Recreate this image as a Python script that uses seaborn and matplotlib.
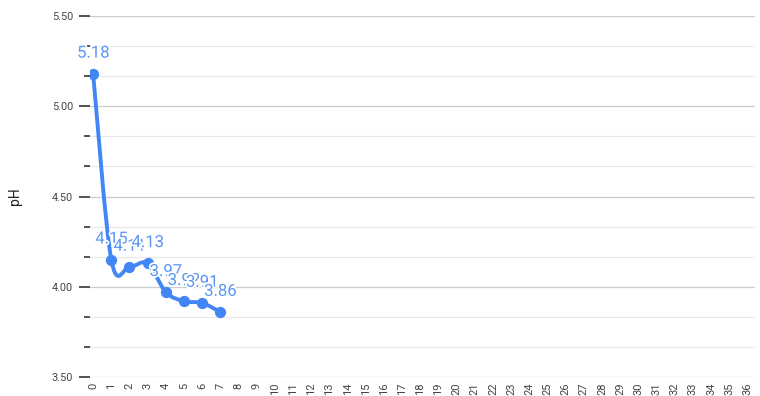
import numpy as np
import pandas as pd
import matplotlib
matplotlib.use("Agg")
import matplotlib.pyplot as plt
from matplotlib.path import Path
from matplotlib.patches import PathPatch
from matplotlib.ticker import MultipleLocator, FixedLocator, FormatStrFormatter
import matplotlib.patheffects as pe
import seaborn as sns

# Measured pH per day
days = [0, 1, 2, 3, 4, 5, 6, 7]
ph_values = [5.18, 4.15, 4.11, 4.13, 3.97, 3.92, 3.91, 3.86]
x_ticks = list(range(0, 37))
y_ticks = [3.50, 4.00, 4.50, 5.00, 5.50]

LINE = "#4285f4"
TEXT = "#5a96f2"

sns.set_theme(style="white")
plt.rcParams["font.family"] = ["Roboto", "DejaVu Sans"]

df = pd.DataFrame({"day": days, "pH": ph_values})

fig = plt.figure(figsize=(7.6, 3.96), dpi=100)
ax = fig.add_axes([0.118, 0.048, 0.875, 0.9115])

# Smooth curve through the points (Catmull-Rom as cubic Bezier segments)
xs = np.asarray(days, dtype=float)
ys = np.asarray(ph_values, dtype=float)
n = len(xs)
verts = [(xs[0], ys[0])]
codes = [Path.MOVETO]
for i in range(n - 1):
    p0 = (xs[max(i - 1, 0)], ys[max(i - 1, 0)])
    p1 = (xs[i], ys[i])
    p2 = (xs[i + 1], ys[i + 1])
    p3 = (xs[min(i + 2, n - 1)], ys[min(i + 2, n - 1)])
    c1 = (p1[0] + (p2[0] - p0[0]) / 6, p1[1] + (p2[1] - p0[1]) / 6)
    c2 = (p2[0] - (p3[0] - p1[0]) / 6, p2[1] - (p3[1] - p1[1]) / 6)
    verts += [c1, c2, p2]
    codes += [Path.CURVE4] * 3
curve = PathPatch(Path(verts, codes), facecolor="none", edgecolor=LINE,
                  linewidth=2.8, capstyle="round", joinstyle="round", zorder=3)
ax.add_patch(curve)

sns.scatterplot(data=df, x="day", y="pH", ax=ax, color=LINE, s=66,
                edgecolor=LINE, linewidth=0, zorder=4, legend=False)

# Value labels above each point
for d, v in zip(days, ph_values):
    ax.annotate(f"{v:.2f}", (d, v), xytext=(0, 9.5), textcoords="offset points",
                ha="center", va="bottom", fontsize=12, color=TEXT, zorder=5,
                path_effects=[pe.withStroke(linewidth=2.5, foreground="white")])

ax.set_xlim(-0.19, 36.4)
ax.set_ylim(3.5, 5.5)

ax.xaxis.set_major_locator(FixedLocator(x_ticks))
ax.set_xticks(x_ticks)
ax.set_xticklabels([str(t) for t in x_ticks], rotation=90, fontsize=8, color="#444444")
ax.tick_params(axis="x", length=0, pad=4)

ax.yaxis.set_major_locator(FixedLocator(y_ticks))
ax.yaxis.set_major_formatter(FormatStrFormatter("%.2f"))
ax.yaxis.set_minor_locator(MultipleLocator(0.5 / 3))
ax.tick_params(axis="y", which="major", length=8, width=1.1, color="#222222",
               labelsize=7.8, labelcolor="#444444", pad=4, left=True)
ax.tick_params(axis="y", which="minor", length=4.3, width=1.1, color="#222222", left=True)

ax.grid(axis="y", which="major", color="#cccccc", linewidth=0.9)
ax.grid(axis="y", which="minor", color="#e8e8e8", linewidth=0.9)
ax.grid(axis="x", visible=False)
ax.set_axisbelow(True)
for s in ax.spines.values():
    s.set_visible(False)

ax.set_xlabel("")
ax.set_ylabel("pH", fontsize=10, color="#222222", labelpad=21)

fig.savefig("out.png", dpi=100)
